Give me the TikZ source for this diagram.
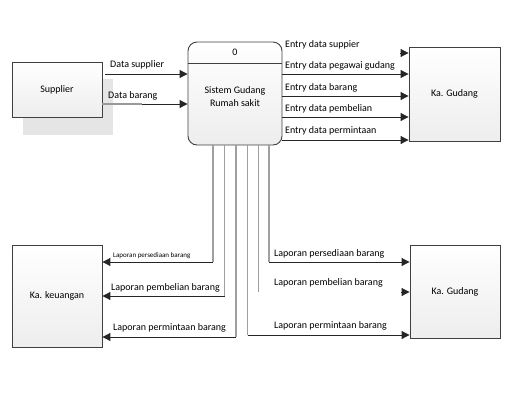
\documentclass[tikz,border=0pt]{standalone}
\usepackage{fontspec}
\setmainfont{Carlito}
\usetikzlibrary{arrows.meta}
\begin{document}
\begin{tikzpicture}[x=1pt,y=-1pt,
  ent/.style={rectangle,draw=black!75,line width=0.9pt,top color=white,bottom color=gray!14,inner sep=0pt,font=\fontsize{10}{12}\selectfont},
  flow/.style={draw=black!85,line width=1pt,-{Triangle[length=8pt,width=8pt]}},
  vline/.style={draw=gray!75,line width=1.2pt},
  lbl/.style={anchor=west,inner sep=0pt,font=\fontsize{10}{12}\selectfont},
  slbl/.style={anchor=west,inner sep=0pt,font=\fontsize{7}{8}\selectfont}]
\useasboundingbox (0,0) rectangle (517,400);
% supplier with shadow
\fill[gray!20] (23,79) rectangle (113,135);
\node[ent,minimum width=90pt,minimum height=55pt] (sup) at (57,89.5) {Supplier};
% process
\node[rectangle,rounded corners=9pt,draw=black!75,line width=0.9pt,top color=white,bottom color=gray!14,minimum width=94pt,minimum height=103pt,inner sep=0pt] (proc) at (235,93.5) {};
\draw[black!75,line width=0.9pt] (proc.west |- 0,63) coordinate (dl) -- (dl -| proc.east);
\node[inner sep=0pt,font=\fontsize{10}{12}\selectfont] (pid) at (235,52.5) {0};
\node[inner sep=0pt,align=center,font=\fontsize{10}{13}\selectfont] (pname) at (235,97) {Sistem Gudang\\Rumah sakit};
% other entities
\node[ent,minimum width=91pt,minimum height=94pt] (kg1) at (454.5,94) {Ka. Gudang};
\node[ent,minimum width=90pt,minimum height=102pt] (kk) at (57,296) {Ka. keuangan};
\node[ent,minimum width=90pt,minimum height=93pt] (kg2) at (455,291.5) {Ka. Gudang};
% supplier -> process
\draw[flow] ([xshift=3pt,yshift=15.5pt]sup.east) coordinate (s1) -- (s1 -| proc.west);
\draw[flow] ([yshift=-14.5pt]sup.east) coordinate (s2) -- (s2 -| proc.west);
\draw[gray!80,line width=2pt] (s2) -- ++(40,0);
\node[lbl] (l1) at (110,65) {Data supplier};
\node[lbl] (l2) at (108,95.5) {Data barang};
% process -> Ka. Gudang (top)
\draw[flow] ([xshift=-9pt,yshift=41pt]kg1.west) -- ([yshift=41pt]kg1.west);
\draw[flow] ([yshift=19.5pt]proc.east) coordinate (e2) -- (e2 -| kg1.west);
\draw[flow] ([yshift=-2.5pt]proc.east) coordinate (e3) -- (e3 -| kg1.west);
\draw[flow] ([yshift=-23.5pt]proc.east) coordinate (e4) -- (e4 -| kg1.west);
\draw[flow] ([yshift=-46.5pt]proc.east) coordinate (e5) -- (e5 -| kg1.west);
\node[lbl] (t1) at (285,45) {Entry data suppier};
\node[lbl] (t2) at (285,66) {Entry data pegawai gudang};
\node[lbl] (t3) at (285,87.5) {Entry data barang};
\node[lbl] (t4) at (285,109) {Entry data pembelian};
\node[lbl] (t5) at (285,131) {Entry data permintaan};
% vertical report lines
\coordinate (v1) at (213,262);
\coordinate (v2) at (224.5,296);
\coordinate (v3) at (236,337);
\coordinate (v4) at (247.5,335);
\coordinate (v5) at (258.5,292);
\coordinate (v6) at (269,262);
\foreach \v in {v1,v2,v3,v4,v5,v6}
  \draw[vline] (\v |- proc.south) -- (\v);
% to Ka. keuangan
\draw[flow] (v1) -- (v1 -| kk.east);
\draw[flow] (v2) -- (v2 -| kk.east);
\draw[flow] (v3) -- (v3 -| kk.east);
\node[slbl] (b1) at (113,255.5) {Laporan persediaan barang};
\node[lbl] (b2) at (111,288) {Laporan pembelian barang};
\node[lbl] (b3) at (113,327.5) {Laporan permintaan barang};
% to Ka. Gudang (bottom)
\draw[flow] (v6) -- (v6 -| kg2.west);
\draw[flow] ([xshift=-9pt]v5 -| kg2.west) -- (v5 -| kg2.west);
\draw[flow] (v4) -- (v4 -| kg2.west);
\node[lbl] (r1) at (274,254) {Laporan persediaan barang};
\node[lbl] (r2) at (274,283) {Laporan pembelian barang};
\node[lbl] (r3) at (274,326) {Laporan permintaan barang};
\end{tikzpicture}
\end{document}
